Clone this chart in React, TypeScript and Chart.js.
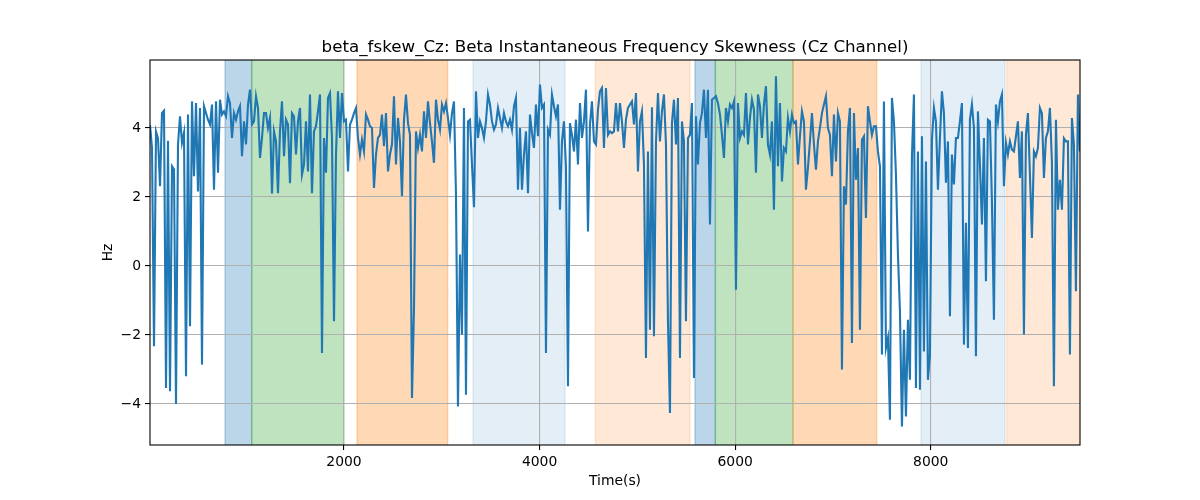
import React, { useEffect, useRef } from 'react';
import { Chart, registerables } from 'chart.js';

Chart.register(...registerables);

// ---- data ----
const TIME_START = 16;
const TIME_STEP = 20.45;
const skewValues = [
  4.09, 3.42, -2.33, 3.9, 3.7, 2.31, 4.43, 4.5, -3.54, 3.63,
  -3.63, 2.89, 2.8, -4.0, 3.52, 4.34, 3.57, 3.86, -3.2, 4.39,
  -1.75, 4.77, 2.6, 4.72, 2.16, 4.58, -2.86, 4.63, 4.43, 4.24,
  4.1, 4.68, 2.21, 4.77, 2.7, 4.82, 4.39, 4.48, 4.34, 4.92,
  4.72, 3.71, 4.43, 4.24, 4.48, 4.63, 3.18, 4.19, 3.52, 4.68,
  5.11, 4.1, 4.19, 4.92, 4.58, 3.13, 3.71, 4.43, 4.43, 4.0,
  4.29, 2.1, 3.9, 3.61, 2.11, 3.9, 4.77, 3.18, 4.24, 4.1,
  2.4, 4.43, 4.34, 3.23, 4.19, 4.58, 2.65, 2.94, 4.19, 2.74,
  4.97, 2.11, 3.9, 4.05, 4.48, 4.97, -2.52, 3.71, 2.7, 4.87,
  5.01, 3.71, -1.6, 3.23, 5.06, 3.71, 5.01, 4.19, 4.24, 2.74,
  4.1, 4.24, 4.43, 4.58, 3.71, 3.23, 3.66, 3.32, 4.39, 4.24,
  4.05, 4.0, 2.26, 3.23, 3.71, 3.8, 4.39, 3.47, 4.43, 2.74,
  3.23, 3.52, 4.92, 2.94, 4.29, 3.61, 2.02, 4.24, 4.97, 4.14,
  3.8, -3.83, -1.27, 3.9, 3.42, 3.8, 3.32, 4.48, 3.71, 4.77,
  4.14, 3.61, 2.99, 4.82, 4.24, 3.95, 4.68, 4.48, 4.72, 4.29,
  3.8, 4.43, 4.77, 2.07, -4.07, 0.33, -1.99, 4.58, -3.73, 4.19,
  4.24, 2.94, 1.7, 5.06, 3.71, 4.19, 4.0, 3.71, 4.19, 4.97,
  4.68, 4.19, 3.95, 4.1, 4.58, 4.29, 4.0, 4.43, 4.19, 4.05,
  4.24, 3.95, 4.63, 4.87, 2.21, 4.0, 2.21, 3.23, 3.9, 2.11,
  4.39, 3.85, 3.42, 4.68, 3.76, 5.26, 4.58, 4.68, -2.52, 3.95,
  3.8, 4.97, 4.63, 4.34, 4.68, 1.63, 3.61, 4.19, 2.84, -3.49,
  4.14, 3.8, 3.32, 4.24, 2.94, 4.72, 3.71, 4.19, 5.11, 1.0,
  4.1, 4.77, 3.61, 3.52, 4.53, 5.06, 5.16, 3.42, 5.16, 3.8,
  3.9, 3.85, 3.9, 4.72, 3.9, 4.72, 4.19, 3.42, 4.24, 4.58,
  4.68, 4.77, 4.1, 5.01, 2.74, 4.19, 4.48, 2.94, -2.67, 3.32,
  -1.85, 4.6, -2.04, 3.57, 5.01, 3.61, 4.48, 4.97, 3.52, -1.6,
  -4.26, 4.14, 4.82, 3.52, 4.87, -2.67, 4.19, 3.61, -1.6, 3.71,
  3.8, 4.72, -3.25, 4.34, 2.94, 4.14, 4.43, 5.11, 3.71, 5.11,
  1.2, 4.82, 4.87, 4.92, 4.72, 4.39, 3.8, 3.13, 4.58, 4.19,
  4.68, 4.58, 4.77, -0.69, 4.72, 3.71, 3.9, 3.8, 5.01, 3.52,
  4.29, 4.82, 4.53, 2.7, 4.97, 4.63, 3.71, 4.68, 5.21, 3.52,
  3.23, 4.19, 1.63, 5.5, 2.89, 4.72, 2.45, 3.42, 3.32, 4.29,
  3.9, 4.39, 4.14, 4.19, 2.94, 3.76, 4.48, 4.19, 2.21, 2.84,
  3.61, 4.43, 3.52, 2.79, 3.61, 4.0, 4.43, 4.68, 4.92, 4.0,
  3.8, 2.6, 4.39, 3.03, 4.43, 4.19, -3.0, 2.31, 1.78, 3.9,
  4.58, -2.23, 4.43, 2.5, 3.42, -1.85, 3.66, 3.76, 1.39, 4.63,
  4.19, 3.8, 4.05, 4.05, 3.32, 2.89, -2.57, 4.77, -2.38, -2.09,
  -4.46, 4.87, 4.19, 2.65, 0.33, -1.31, -4.65, -1.85, -4.36, -1.56,
  -3.3, 3.18, 4.97, -3.54, 3.32, -3.59, 3.76, -2.48, 3.03, -3.3,
  -2.57, 3.66, 4.58, 4.19, 2.21, 3.71, 5.06, 4.43, 2.41, 3.61,
  -1.46, 3.23, 2.36, 3.71, 3.71, 4.19, 4.72, -2.28, 1.25, -2.38,
  4.24, 4.68, 4.0, -2.62, 4.48, 2.94, 1.2, 3.71, -0.44, 4.24,
  4.19, 1.87, -1.56, 4.68, 4.19, 4.77, 4.97, 2.31, 3.57, 3.23,
  3.61, 3.37, 3.32, 3.76, 4.19, 2.55, 3.9, -1.99, 3.8, 4.43,
  2.65, 0.81, 3.32, 3.18, 3.42, 4.58, 4.43, 2.55, 3.71, 3.9,
  4.58, 2.99, -3.49, 4.24, 1.63, 2.5, 1.63, 3.7, 3.61, 3.61,
  -2.57, 4.29, 3.52, -0.73, 4.97, 3.32,
];

const spanStart = [783, 1056, 2133, 3319, 4570, 5589, 5797, 6593, 7900, 8776];
const spanEnd = [1056, 2000, 3060, 4260, 5538, 5797, 6591, 7447, 8759, 9540];
const spanKind = ['blue', 'green', 'orange', 'lightblue', 'lightorange', 'blue', 'green', 'orange', 'lightblue', 'lightorange'];

const xTicks = [2000, 4000, 6000, 8000];
const yTicks = [-4, -2, 0, 2, 4];
const X_MIN = 16;
const X_MAX = 9526;
const Y_MIN = -5.19;
const Y_MAX = 5.97;

const TITLE = 'beta_fskew_Cz: Beta Instantaneous Frequency Skewness (Cz Channel)';
const X_LABEL = 'Time(s)';
const Y_LABEL = 'Hz';

// ---- styles ----
const SPAN_COLORS: Record<string, string> = {
  blue: 'rgba(31,119,180,0.3)',
  green: 'rgba(44,160,44,0.3)',
  orange: 'rgba(255,127,14,0.3)',
  lightblue: 'rgba(31,119,180,0.12)',
  lightorange: 'rgba(255,127,14,0.17)',
};
const FONT = "'DejaVu Sans', sans-serif";

const decorPlugin = {
  id: 'decor',
  beforeDraw(chart: any) {
    const { ctx, chartArea: a } = chart;
    const xs = chart.scales.x;
    ctx.save();
    ctx.fillStyle = '#ffffff';
    ctx.fillRect(0, 0, chart.width, chart.height);
    ctx.beginPath();
    ctx.rect(a.left, a.top, a.right - a.left, a.bottom - a.top);
    ctx.clip();
    spanStart.forEach((s, i) => {
      const x0 = xs.getPixelForValue(s);
      const x1 = xs.getPixelForValue(spanEnd[i]);
      const c = SPAN_COLORS[spanKind[i]];
      ctx.fillStyle = c;
      ctx.fillRect(x0, a.top, x1 - x0, a.bottom - a.top);
      ctx.strokeStyle = c;
      ctx.lineWidth = 1.4;
      ctx.beginPath();
      ctx.moveTo(x0, a.top);
      ctx.lineTo(x0, a.bottom);
      ctx.moveTo(x1, a.top);
      ctx.lineTo(x1, a.bottom);
      ctx.stroke();
    });
    ctx.restore();
  },
  afterDraw(chart: any) {
    const { ctx, chartArea: a } = chart;
    ctx.save();
    ctx.strokeStyle = '#000';
    ctx.lineWidth = 1.1;
    ctx.strokeRect(a.left, a.top, a.right - a.left, a.bottom - a.top);
    ctx.fillStyle = '#000';
    ctx.textAlign = 'center';
    ctx.font = `16.7px ${FONT}`;
    ctx.textBaseline = 'alphabetic';
    ctx.fillText(TITLE, (a.left + a.right) / 2, a.top - 8.3);
    ctx.font = `13.9px ${FONT}`;
    ctx.textBaseline = 'top';
    ctx.fillText(X_LABEL, (a.left + a.right) / 2, 474);
    ctx.translate(108, (a.top + a.bottom) / 2);
    ctx.rotate(-Math.PI / 2);
    ctx.textBaseline = 'middle';
    ctx.fillText(Y_LABEL, 0, 0);
    ctx.restore();
  },
};

const fmt = (v: number) => (v < 0 ? '\u2212' + Math.abs(v) : String(v));

export default function App() {
  const ref = useRef<HTMLCanvasElement>(null);
  useEffect(() => {
    const points = skewValues.map((v, i) => ({ x: TIME_START + i * TIME_STEP, y: v }));
    const chart = new Chart(ref.current as HTMLCanvasElement, {
      type: 'line',
      data: {
        datasets: [
          {
            data: points,
            borderColor: '#1f77b4',
            borderWidth: 2.1,
            pointRadius: 0,
            tension: 0,
            fill: false,
            clip: 0 as any,
          },
        ],
      },
      options: {
        animation: false,
        responsive: false,
        devicePixelRatio: 1,
        layout: { padding: { top: 60, right: 120, left: 0, bottom: 0 } },
        plugins: { legend: { display: false }, tooltip: { enabled: false }, title: { display: false } },
        scales: {
          x: {
            type: 'linear',
            min: X_MIN,
            max: X_MAX,
            afterBuildTicks: (s: any) => {
              s.ticks = xTicks.map((v) => ({ value: v }));
            },
            afterFit: (s: any) => {
              s.height = 55;
            },
            ticks: { color: '#000', font: { family: FONT, size: 13.9 }, padding: 4, callback: (v: any) => String(v), maxRotation: 0 },
            grid: { color: '#b0b0b0', lineWidth: 1.1, tickColor: '#000', tickLength: 5, tickWidth: 1.1 },
            border: { display: false },
          },
          y: {
            type: 'linear',
            min: Y_MIN,
            max: Y_MAX,
            afterBuildTicks: (s: any) => {
              s.ticks = yTicks.map((v) => ({ value: v }));
            },
            afterFit: (s: any) => {
              s.width = 150;
            },
            ticks: { color: '#000', font: { family: FONT, size: 13.9 }, padding: 4, callback: (v: any) => fmt(Number(v)) },
            grid: { color: '#b0b0b0', lineWidth: 1.1, tickColor: '#000', tickLength: 5, tickWidth: 1.1 },
            border: { display: false },
          },
        },
      },
      plugins: [decorPlugin],
    });
    return () => chart.destroy();
  }, []);
  return (
    <div style={{ position: 'absolute', left: 0, top: 0, width: 1200, height: 500, background: '#fff' }}>
      <canvas ref={ref} width={1200} height={500} style={{ display: 'block', width: 1200, height: 500 }} />
    </div>
  );
}
